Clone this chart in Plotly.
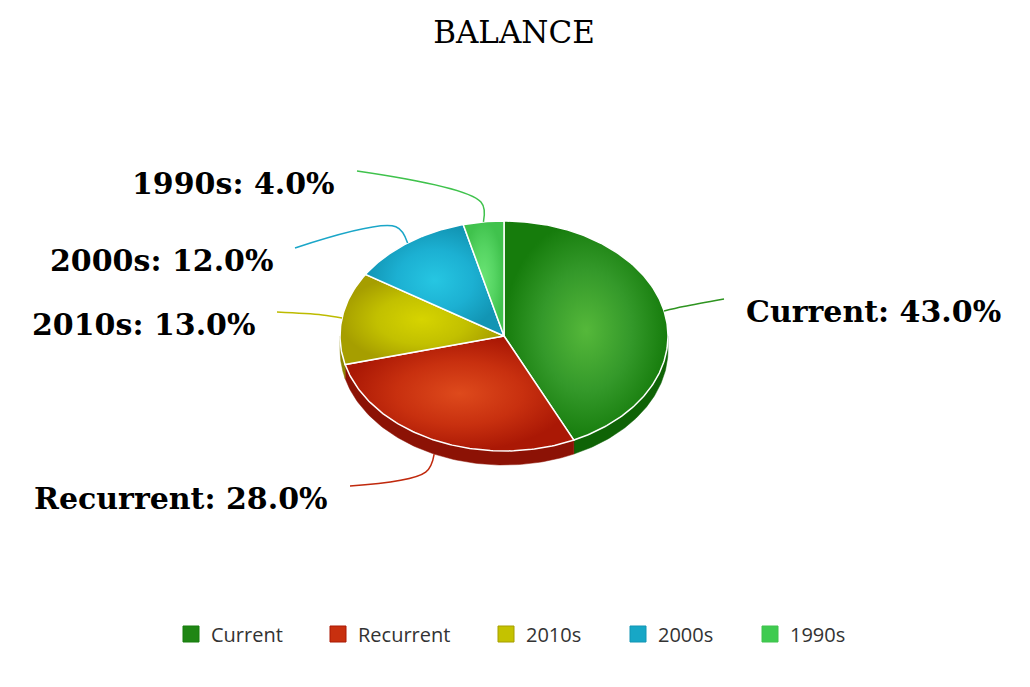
import numpy as np
import plotly.graph_objects as go

# ---------------- data ----------------
TITLE = "BALANCE"
categories = ["Current", "Recurrent", "2010s", "2000s", "1990s"]
values = [43.0, 28.0, 13.0, 12.0, 4.0]

# ---------------- styles / layout ----------------
face_light = ["#55b83a", "#de4a1c", "#d6d400", "#26c6e2", "#6ae474"]
face_mid = ["#34992a", "#c8300f", "#c2c000", "#1cb0d2", "#55d462"]
face_dark = ["#167c0c", "#aa1805", "#a69e00", "#1295b4", "#40c24d"]
side_colors = ["#0f6306", "#8c1205", "#8a8400", "#0d7a94", "#2fa63b"]
line_colors = ["#2e9420", "#c0290d", "#bdbb00", "#1aa6c8", "#3fc24c"]
legend_colors = ["#1f8614", "#c8300f", "#c4c200", "#17a7c6", "#3fcb50"]

# label anchor (screen px): (x of text edge, y centre, side)
LABEL_POS = [(744, 311, "left"), (330, 498, "right"), (257, 324, "right"),
             (275, 260, "right"), (337, 183, "right")]
# legend symbol left edges (screen px)
LEGEND_X = [175, 322, 490, 622, 754]
LEGEND_Y = 634
TITLE_Y = 32

CX, CY, RX, RY, DEPTH = 504, 336, 164, 115, 14
W, H = 1030, 687
OFF = 8  # page body margin


def ell(theta, dy=0.0, grow=0.0):
    return (CX + (RX + grow) * np.sin(theta),
            CY - (RY + grow) * np.cos(theta) + dy)


fig = go.Figure()

total = float(sum(values))
fr = np.array(values) / total
starts = np.concatenate([[0.0], np.cumsum(fr)[:-1]]) * 2 * np.pi
ends = np.cumsum(fr) * 2 * np.pi

# sides (3D rim) for front half
for i in range(len(values)):
    a1, a2 = max(starts[i], np.pi / 2), min(ends[i], 3 * np.pi / 2)
    if a2 <= a1:
        continue
    th = np.linspace(a1, a2, 80)
    xt, yt = ell(th)
    xb, yb = ell(th[::-1], dy=DEPTH)
    fig.add_trace(go.Scatter(
        x=np.concatenate([xt, xb, xt[:1]]), y=np.concatenate([yt, yb, yt[:1]]),
        mode="lines", fill="toself", fillcolor=side_colors[i],
        line=dict(color=side_colors[i], width=0.5),
        showlegend=False, hoverinfo="skip"))

# top faces
for i in range(len(values)):
    th = np.linspace(starts[i], ends[i], max(int(fr[i] * 400), 12))
    xs, ys = ell(th)
    fig.add_trace(go.Scatter(
        x=np.concatenate([[CX], xs, [CX]]), y=np.concatenate([[CY], ys, [CY]]),
        mode="lines", fill="toself",
        fillgradient=dict(type="radial",
                          colorscale=[[0, face_light[i]], [0.55, face_mid[i]],
                                      [1, face_dark[i]]]),
        line=dict(color="white", width=1.5),
        name=categories[i], showlegend=False,
        hovertemplate=f"{categories[i]}: {values[i]:.1f}%<extra></extra>"))

# leader lines + labels
for i in range(len(values)):
    mid = (starts[i] + ends[i]) / 2
    front = np.pi / 2 < mid < 3 * np.pi / 2
    dy = DEPTH if front else 0.0
    ex, ey = ell(mid, dy=dy)
    bx, by = ell(mid, dy=dy, grow=20)
    lx, ly, side = LABEL_POS[i]
    endx = lx - 20 if side == "left" else lx + 20
    endy = ly - 12
    fig.add_trace(go.Scatter(
        x=[ex, bx, endx], y=[ey, by, endy], mode="lines",
        line=dict(color=line_colors[i], width=1.5, shape="spline", smoothing=1.0),
        showlegend=False, hoverinfo="skip"))
    fig.add_annotation(
        x=lx, y=ly, xref="x", yref="y", showarrow=False,
        xanchor=side, yanchor="middle",
        text=f"<b>{categories[i]}: {values[i]:.1f}%</b>",
        font=dict(family="DejaVu Serif", size=30, color="#000000"))

# legend entries, one legend per item so each sits at its own place
legend_layout = {}
for i in range(len(values)):
    key = "legend" if i == 0 else f"legend{i + 1}"
    fig.add_trace(go.Scatter(
        x=[None], y=[None], mode="markers", name=categories[i],
        legend=key,
        marker=dict(symbol="square", size=18, color=legend_colors[i],
                    line=dict(color=face_dark[i], width=1))))
    legend_layout[key] = dict(
        orientation="h", x=(LEGEND_X[i] - OFF - 4) / W, xanchor="left",
        y=1 - (LEGEND_Y - OFF) / H, yanchor="middle",
        font=dict(family="Open Sans", size=20, color="#333333"),
        itemsizing="trace", bgcolor="rgba(0,0,0,0)", borderwidth=0)

fig.update_layout(
    width=W, height=H,
    margin=dict(l=0, r=0, t=0, b=0),
    paper_bgcolor="white", plot_bgcolor="white",
    xaxis=dict(range=[OFF, W + OFF], visible=False, fixedrange=True),
    yaxis=dict(range=[H + OFF, OFF], visible=False, fixedrange=True),
    title=dict(text=TITLE, x=(514 - OFF) / W, xanchor="center",
               y=1 - (TITLE_Y - OFF) / H, yanchor="middle",
               font=dict(family="DejaVu Serif", size=31, color="#000000")),
    showlegend=True,
    **legend_layout,
)

fig.write_html("out.html")
